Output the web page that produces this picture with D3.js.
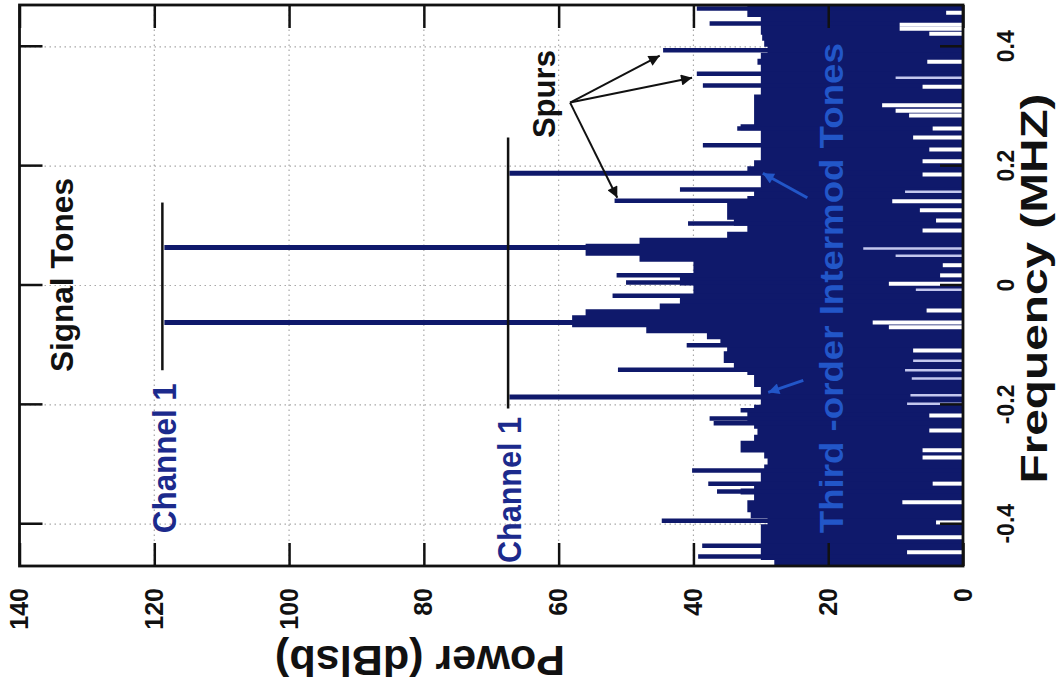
<!DOCTYPE html>
<html><head><meta charset="utf-8">
<script src="https://cdn.jsdelivr.net/npm/d3@7"></script>
<style>
body{margin:0;background:#fff}
svg{display:block}
text{font-family:"Liberation Sans",Arial,Helvetica,sans-serif;font-weight:bold}
</style>
</head><body>
<svg id="c" width="1059" height="692"></svg>
<script>
// ---------------- data ----------------
const freqTicks = [-0.4, -0.2, 0, 0.2, 0.4];
const freqTickLabels = ["-0.4", "-0.2", "0", "0.2", "0.4"];
const powerTicks = [0, 20, 40, 60, 80, 100, 120, 140];
const powerTickLabels = ["0", "20", "40", "60", "80", "100", "120", "140"];

// noise-floor upper edge, bins of 0.01 MHz starting at -0.47 MHz
const floorStart = -0.47, floorStep = 0.01;
const floorTop = [
  28, 30, 30, 30, 30, 30, 30, 29, 31.5, 32,
  32, 31, 33, 31, 30, 30, 29.5, 29, 29.5, 33,
  33, 31, 30.5, 31, 32, 32, 31, 30, 30, 30,
  31, 31, 32, 34, 35.5, 35.5, 35, 36, 38, 47,
  58, 58, 56, 45, 42, 40, 40, 42, 42, 40,
  40, 48, 56, 56, 48, 35, 32, 34, 35, 35,
  35, 32, 31, 30, 30, 30, 32, 31, 30, 30,
  30, 30, 30, 33, 31, 31, 31, 31, 31, 30,
  30, 30, 30, 30, 30.5, 30, 29, 29.5, 29.8, 30,
  30, 30, 32, 32
];

// signal tones and channel tones
const toneFreq = [-0.062, 0.0637];
const tonePower = [118.5, 118.5];
const channelFreq = [-0.187, 0.188];
const channelPower = [67.3, 67.3];

// spurs / isolated spectral lines
const spurFreq = [0.464, 0.439, 0.394, 0.355, 0.335, 0.263, 0.235, 0.161, 0.142, 0.104,
  0.017, 0.005, -0.017, -0.027, -0.1, -0.141, -0.209, -0.223, -0.231, -0.31,
  -0.332, -0.345, -0.394, -0.436, -0.454];
const spurPower = [39.5, 37.6, 44.5, 39.5, 38.6, 33.5, 38.6, 42, 51.7, 40.8,
  51.4, 50, 52, 42, 41, 51.2, 33, 37.6, 37, 40.2,
  37.8, 36.5, 44.7, 38.7, 39.3];

// dips of the spectrum (white gaps from the 0 dB side)
const dipFreq = [0.457, 0.437, 0.430, 0.422, 0.375, 0.333, 0.302, 0.293, 0.285, 0.263,
  0.248, 0.228, 0.208, 0.186, 0.141, 0.126, 0.109, 0.092, 0.034, 0.017,
  0.003, -0.042, -0.062, -0.07, -0.109, -0.218, -0.243, -0.276, -0.288, -0.332,
  -0.363, -0.397, -0.422, -0.447];
const dipPower = [2.5, 9.4, 9.4, 5, 5.3, 6, 12, 10, 8, 4.5,
  7.4, 5, 6, 6, 10.5, 6.4, 4, 6, 3, 3.4,
  11, 5.4, 13.4, 11, 7.4, 5, 5, 6, 6, 4.5,
  9, 4, 9.8, 8.3];
// faint (lavender) dips
const faintFreq = [0.348, 0.157, 0.062, 0.05, -0.007, -0.126, -0.142, -0.156, -0.184, -0.198];
const faintPower = [10, 8.6, 14.8, 10, 7, 7.4, 8.6, 7.6, 7.8, 8.3];

// ---------------- layout ----------------
const svg = d3.select("#c");
// chart is drawn in its natural orientation, then turned a quarter-turn counter-clockwise
const g = svg.append("g").attr("transform", "translate(0,692) rotate(-90)");

const x = d3.scaleLinear().domain([-0.47, 0.47]).range([126, 687]);
const y = d3.scaleLinear().domain([0, 140]).range([963, 19.5]);

const navy = "#0f196b";
const blue = "#2256c8";

const defs = svg.append("defs");
defs.append("clipPath").attr("id", "clip").append("rect")
  .attr("x", 126).attr("y", 19.5).attr("width", 561).attr("height", 943.5);
function marker(id, color) {
  defs.append("marker").attr("id", id).attr("viewBox", "0 0 10 10")
    .attr("refX", 10).attr("refY", 5).attr("markerWidth", 14).attr("markerHeight", 11)
    .attr("markerUnits", "userSpaceOnUse").attr("orient", "auto")
    .append("path").attr("d", "M0,0 L10,5 L0,10 Z").attr("fill", color);
}
marker("ah", "#111");
marker("ahb", blue);

// grid
const grid = g.append("g").attr("stroke", "#a8a8a8").attr("stroke-width", 1.2)
  .attr("stroke-dasharray", "1.5,3.5");
grid.selectAll(".gf").data(freqTicks).join("line")
  .attr("x1", d => x(d)).attr("x2", d => x(d)).attr("y1", y(140)).attr("y2", y(0));
grid.selectAll(".gp").data(powerTicks.slice(1, -1)).join("line")
  .attr("x1", x.range()[0]).attr("x2", x.range()[1]).attr("y1", d => y(d)).attr("y2", d => y(d));

const plot = g.append("g").attr("clip-path", "url(#clip)");

// noise floor
const floorPts = floorTop.map((v, i) => ({f: floorStart + i * floorStep, p: v}));
floorPts.push({f: floorStart + floorTop.length * floorStep, p: floorTop[floorTop.length - 1]});
plot.append("path").datum(floorPts)
  .attr("fill", navy)
  .attr("d", d3.area().x(d => x(d.f)).y0(y(0)).y1(d => y(d.p)).curve(d3.curveStepAfter));

function lines(sel, fs, ps, color, w) {
  sel.append("g").selectAll("line").data(fs.map((f, i) => ({f, p: ps[i]}))).join("line")
    .attr("x1", d => x(d.f)).attr("x2", d => x(d.f))
    .attr("y1", y(0)).attr("y2", d => y(d.p))
    .attr("stroke", color).attr("stroke-width", w);
}
lines(plot, spurFreq, spurPower, navy, 4.5);
lines(plot, channelFreq, channelPower, navy, 5);
lines(plot, toneFreq, tonePower, navy, 5);
lines(plot, dipFreq, dipPower, "#ffffff", 4);
lines(plot, faintFreq, faintPower, "#c3c7ee", 2.5);

// box + ticks
const tickLen = 23;
const axB = g.append("g").attr("transform", `translate(0,${y(0)})`)
  .call(d3.axisBottom(x).tickValues(freqTicks).tickSizeInner(-tickLen).tickSizeOuter(0)
    .tickPadding(35).tickFormat((d, i) => freqTickLabels[i]));
const axT = g.append("g").attr("transform", `translate(0,${y(140)})`)
  .call(d3.axisTop(x).tickValues(freqTicks).tickSizeInner(-tickLen).tickSizeOuter(0).tickFormat(""));
const axL = g.append("g").attr("transform", `translate(${x(-0.47)},0)`)
  .call(d3.axisLeft(y).tickValues(powerTicks).tickSizeInner(-tickLen).tickSizeOuter(0)
    .tickPadding(22).tickFormat((d, i) => powerTickLabels[i]));
const axR = g.append("g").attr("transform", `translate(${x(0.47)},0)`)
  .call(d3.axisRight(y).tickValues(powerTicks).tickSizeInner(-tickLen).tickSizeOuter(0).tickFormat(""));
[axB, axT, axL, axR].forEach(a => {
  a.select(".domain").remove();
  a.selectAll("line").attr("stroke", "#111").attr("stroke-width", 2.5);
  a.selectAll("text").attr("fill", "#111").attr("font-family", null);
});
axB.selectAll("text").attr("font-size", 23);
axL.selectAll("text").attr("font-size", 25);
g.append("rect").attr("x", x(-0.47)).attr("y", y(140))
  .attr("width", x(0.47) - x(-0.47)).attr("height", y(0) - y(140))
  .attr("fill", "none").attr("stroke", "#111").attr("stroke-width", 2.8);

// axis titles
g.append("text").attr("x", x(-0.005)).attr("y", 1047).attr("text-anchor", "middle")
  .attr("font-size", 36).attr("textLength", 390).attr("lengthAdjust", "spacingAndGlyphs")
  .attr("fill", "#111").text("Frequency (MHZ)");
g.append("text").attr("transform", "translate(46,420) rotate(-90)").attr("text-anchor", "middle")
  .attr("font-size", 42).attr("textLength", 290).attr("lengthAdjust", "spacingAndGlyphs")
  .attr("fill", "#111").text("Power (dBlsb)");

// annotations
function seg(f1, p1, f2, p2, color, w, mk) {
  const l = g.append("line").attr("x1", x(f1)).attr("y1", y(p1)).attr("x2", x(f2)).attr("y2", y(p2))
    .attr("stroke", color).attr("stroke-width", w);
  if (mk) l.attr("marker-end", `url(#${mk})`);
}
seg(-0.142, 118.8, 0.139, 118.8, "#111", 2.5);
seg(-0.206, 67.5, 0.248, 67.5, "#111", 2.5);
seg(0.3065, 58.3, 0.385, 45.0, "#111", 2, "ah");
seg(0.3065, 58.3, 0.348, 40.2, "#111", 2, "ah");
seg(0.3065, 58.3, 0.147, 51.3, "#111", 2, "ah");
seg(0.147, 23.1, 0.188, 29.7, blue, 3, "ahb");
seg(-0.159, 23.7, -0.179, 28.9, blue, 3, "ahb");

function label(f, p, txt, size, len, color) {
  g.append("text").attr("x", x(f)).attr("y", y(p)).attr("font-size", size)
    .attr("textLength", len).attr("lengthAdjust", "spacingAndGlyphs")
    .attr("fill", color).text(txt);
}
label(-0.145, 132.1, "Signal Tones", 32, 194, "#111");
label(0.247, 60.5, "Spurs", 31, 88, "#111");
label(-0.415, 116.8, "Channel 1", 33, 150, "#1c2a8c");
label(-0.465, 65.6, "Channel 1", 33, 146, "#1c2a8c");
label(-0.415, 17.8, "Third -order Intermod Tones", 33, 490, blue);
</script>
</body></html>
